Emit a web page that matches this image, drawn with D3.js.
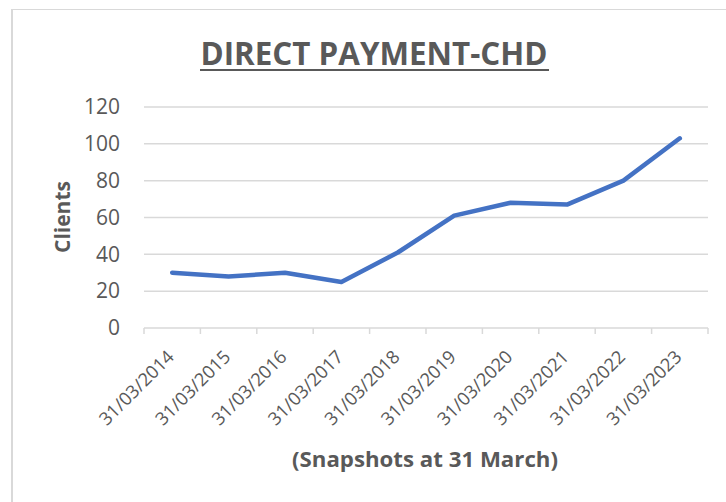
<!DOCTYPE html>
<html lang="en">
  <head>
    <meta charset="utf-8">
    <title>Direct Payment-CHD</title>
    <script src="https://cdn.jsdelivr.net/npm/d3@7"></script>
    <style>
      body { margin: 0; background: #fff; }
      text { font-family: "Open Sans", "Noto Sans", sans-serif; fill: #595959; }
    </style>
  </head>
  <body>
    <svg id="svg"></svg>
    <script type="text/javascript">

        // -- chart data
        var snapshots = ["31/03/2014", "31/03/2015", "31/03/2016", "31/03/2017", "31/03/2018",
                         "31/03/2019", "31/03/2020", "31/03/2021", "31/03/2022", "31/03/2023"];
        var clients = [30, 28, 30, 25, 41, 61, 68, 67, 80, 103];
        var yTicks = [0, 20, 40, 60, 80, 100, 120];

        var chartTitle = "DIRECT PAYMENT-CHD";
        var yTitle = "Clients";
        var xTitle = "(Snapshots at 31 March)";

        var W = 726, H = 502;
        var grid = "#d9d9d9", blue = "#4472c4";

        var svg = d3.select("svg#svg")
            .attr("width", W)
            .attr("height", H);

        // - scale a text's font-size so it spans the wanted width
        function fitText(t, width) {
            var fs = parseFloat(t.attr("font-size"));
            var w = t.node().getComputedTextLength();
            t.attr("font-size", (fs * width / w).toFixed(2));
        }

        // - chart frame (left + top edges show)
        svg.append("line").attr("x1", 12).attr("x2", 12).attr("y1", 9).attr("y2", H)
            .attr("stroke", grid).attr("stroke-width", 2);
        svg.append("line").attr("x1", 11).attr("x2", W).attr("y1", 9.5).attr("y2", 9.5)
            .attr("stroke", grid).attr("stroke-width", 1);

        var x = d3.scaleBand().domain(snapshots).range([144, 708]);
        var y = d3.scaleLinear().domain([0, 120]).range([328, 107]);

        // - gridlines
        svg.append("g").selectAll("line")
            .data(yTicks.slice(1))
            .enter().append("line")
            .attr("x1", 144).attr("x2", 708)
            .attr("y1", function(d) { return y(d); })
            .attr("y2", function(d) { return y(d); })
            .attr("stroke", grid).attr("stroke-width", 1.5);

        // - y axis labels
        var yAxis = svg.append("g")
            .attr("transform", "translate(144,0)")
            .call(d3.axisLeft(y).tickValues(yTicks).tickSize(0).tickPadding(24));
        yAxis.select(".domain").remove();
        yAxis.selectAll("text")
            .attr("font-size", 21)
            .attr("font-family", "Open Sans")
            .attr("fill", "#595959");

        // - x axis
        var xAxis = svg.append("g")
            .attr("transform", "translate(0,328)")
            .call(d3.axisBottom(x).tickSize(0).tickFormat(""));
        xAxis.select(".domain").attr("stroke", grid).attr("stroke-width", 1.5)
            .attr("d", "M144,0H708");
        xAxis.selectAll(".tick").remove();

        var edges = [144].concat(snapshots.map(function(s) { return x(s) + x.bandwidth(); }));
        xAxis.selectAll("line.edge")
            .data(edges)
            .enter().append("line")
            .attr("class", "edge")
            .attr("x1", function(d) { return d; })
            .attr("x2", function(d) { return d; })
            .attr("y1", 0).attr("y2", 6)
            .attr("stroke", grid).attr("stroke-width", 1.5);

        var xLabels = svg.append("g").selectAll("text")
            .data(snapshots)
            .enter().append("text")
            .attr("font-size", 18)
            .attr("text-anchor", "end")
            .attr("transform", function(d) {
                return "translate(" + (x(d) + x.bandwidth() / 2 + 3) + ",358) rotate(-45)";
            })
            .text(function(d) { return d; });
        xLabels.each(function() { fitText(d3.select(this), 97); });

        // - the series
        var line = d3.line()
            .x(function(d, i) { return x(snapshots[i]) + x.bandwidth() / 2; })
            .y(function(d) { return y(d); });

        svg.append("path")
            .datum(clients)
            .attr("d", line)
            .attr("fill", "none")
            .attr("stroke", blue)
            .attr("stroke-width", 4.5)
            .attr("stroke-linejoin", "round")
            .attr("stroke-linecap", "round");

        // - titles
        var title = svg.append("text")
            .attr("x", 374).attr("y", 65)
            .attr("text-anchor", "middle")
            .attr("font-size", 30)
            .attr("font-weight", "bold")
            .text(chartTitle);
        fitText(title, 347);
        svg.append("line")
            .attr("x1", 200).attr("x2", 549).attr("y1", 70).attr("y2", 70)
            .attr("stroke", "#595959").attr("stroke-width", 2);

        var yt = svg.append("text")
            .attr("transform", "translate(70,217) rotate(-90)")
            .attr("text-anchor", "middle")
            .attr("font-size", 22)
            .attr("font-weight", "bold")
            .text(yTitle);
        fitText(yt, 72);

        var xt = svg.append("text")
            .attr("x", 425).attr("y", 467)
            .attr("text-anchor", "middle")
            .attr("font-size", 22)
            .attr("font-weight", "bold")
            .text(xTitle);
        fitText(xt, 266);

    </script>
  </body>
</html>
